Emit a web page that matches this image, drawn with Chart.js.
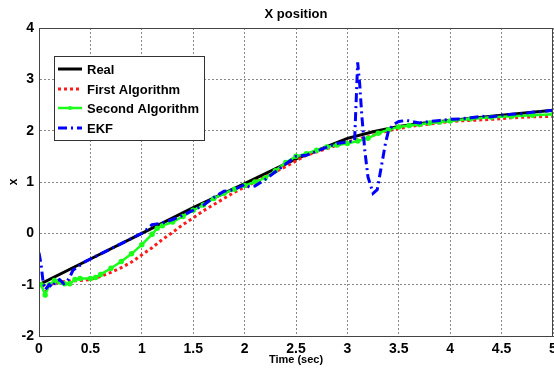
<!DOCTYPE html>
<html>
<head>
<meta charset="utf-8">
<script src="https://cdn.jsdelivr.net/npm/chart.js@4"></script>
<style>
  html, body { margin: 0; padding: 0; background: #fff; }
  #wrap { width: 554px; height: 371px; }
</style>
</head>
<body>
<div id="wrap"><canvas id="xChart" width="554" height="371"></canvas></div>
<script>
const seriesNames = ['Real', 'First Algorithm', 'Second Algorithm', 'EKF'];

const realT = [0, 0.5, 1, 1.5, 2, 2.5, 3, 3.25, 3.5, 3.75, 4, 4.5, 5];
const realX = [-1, -0.5, 0, 0.5, 0.97, 1.45, 1.85, 1.98, 2.08, 2.15, 2.2, 2.3, 2.4];

const firstT = [0.03, 0.06, 0.1, 0.2, 0.3, 0.4, 0.5, 0.6, 0.7, 0.8, 0.9, 1.0, 1.1, 1.2, 1.3, 1.4, 1.5, 1.6, 1.7, 1.8, 1.9, 2.0, 2.2, 2.4, 2.6, 2.8, 3.0, 3.2, 3.4, 3.6, 3.8, 4.0, 4.2, 4.4, 4.6, 4.8, 5.0];
const firstX = [-1.0, -1.15, -1.0, -0.95, -0.93, -0.92, -0.9, -0.84, -0.76, -0.67, -0.56, -0.42, -0.28, -0.12, 0.02, 0.17, 0.3, 0.44, 0.56, 0.68, 0.8, 0.9, 1.1, 1.3, 1.52, 1.65, 1.78, 1.88, 2.0, 2.08, 2.13, 2.18, 2.2, 2.22, 2.25, 2.27, 2.28];

const secondT = [0.02, 0.06, 0.1, 0.15, 0.2, 0.25, 0.3, 0.35, 0.4, 0.5, 0.55, 0.6, 0.7, 0.8, 0.9, 1.0, 1.1, 1.15, 1.2, 1.3, 1.4, 1.5, 1.6, 1.7, 1.8, 1.9, 2.0, 2.1, 2.2, 2.3, 2.4, 2.5, 2.6, 2.7, 2.8, 2.9, 3.0, 3.1, 3.2, 3.3, 3.4, 3.5, 3.6, 3.7, 3.8, 3.9, 4.0, 4.2, 4.4, 4.6, 4.8, 5.0];
const secondX = [-1.0, -1.2, -1.0, -0.92, -0.95, -0.98, -0.98, -0.9, -0.88, -0.88, -0.86, -0.8, -0.68, -0.55, -0.4, -0.22, -0.02, 0.1, 0.15, 0.22, 0.33, 0.45, 0.55, 0.68, 0.78, 0.86, 0.93, 1.0, 1.08, 1.22, 1.38, 1.5, 1.55, 1.62, 1.68, 1.72, 1.75, 1.8, 1.85, 1.95, 2.02, 2.07, 2.1, 2.12, 2.15, 2.17, 2.19, 2.23, 2.26, 2.28, 2.3, 2.32];

const ekfT = [0, 0.02, 0.04, 0.06, 0.08, 0.1, 0.13, 0.16, 0.2, 0.24, 0.27, 0.3, 0.33, 0.4, 0.45, 0.5, 0.55, 0.6, 0.7, 0.8, 0.85, 0.9, 1.0, 1.05, 1.1, 1.2, 1.3, 1.4, 1.5, 1.6, 1.7, 1.8, 1.9, 2.0, 2.05, 2.1, 2.2, 2.3, 2.4, 2.5, 2.6, 2.7, 2.8, 2.9, 3.0, 3.07, 3.1, 3.12, 3.14, 3.17, 3.2, 3.25, 3.29, 3.33, 3.37, 3.4, 3.45, 3.5, 3.58, 3.65, 3.7, 3.8, 3.9, 4.0, 4.1, 4.2, 4.3, 4.4, 4.5, 4.6, 4.7, 4.8, 4.9, 5.0];
const ekfX = [-0.38, -0.6, -0.95, -1.1, -1.05, -1.0, -1.05, -0.95, -0.9, -0.98, -0.95, -0.85, -0.72, -0.62, -0.55, -0.5, -0.45, -0.4, -0.3, -0.2, -0.15, -0.1, 0.0, 0.08, 0.17, 0.2, 0.27, 0.35, 0.45, 0.55, 0.7, 0.82, 0.85, 0.95, 0.9, 0.92, 1.05, 1.2, 1.35, 1.5, 1.52, 1.6, 1.68, 1.75, 1.78, 1.8, 3.33, 2.9, 2.3, 1.6, 1.1, 0.78, 0.85, 1.3, 1.75, 2.0, 2.12, 2.18, 2.2, 2.17, 2.15, 2.18, 2.2, 2.22, 2.23, 2.25, 2.28, 2.27, 2.3, 2.32, 2.33, 2.36, 2.37, 2.4];

const timeTicks = [0, 0.5, 1, 1.5, 2, 2.5, 3, 3.5, 4, 4.5, 5];
const posTicks = [-2, -1, 0, 1, 2, 3, 4];

function pts(ts, xs) {
  return ts.map((t, i) => ({ x: t, y: xs[i] }));
}

const boldFont = '"Liberation Sans", Arial, sans-serif';

// frame, title and legend box drawn on top of the plot
const decor = {
  id: 'decor',
  afterDraw(chart) {
    const ctx = chart.ctx;
    const a = chart.chartArea;
    ctx.save();
    ctx.strokeStyle = '#444';
    ctx.lineWidth = 1;
    ctx.strokeRect(a.left + 0.5, a.top + 0.5, a.right - a.left - 1, a.bottom - a.top);

    ctx.fillStyle = '#000';
    ctx.font = 'bold 13px ' + boldFont;
    ctx.textAlign = 'center';
    ctx.textBaseline = 'middle';
    ctx.fillText('X position', (a.left + a.right) / 2, 14);

    // legend
    const lx = 54, ly = 56, lw = 150, lh = 84;
    ctx.fillStyle = '#fff';
    ctx.fillRect(lx, ly, lw, lh);
    ctx.strokeStyle = '#333';
    ctx.strokeRect(lx + 0.5, ly + 0.5, lw, lh);
    const rows = [69, 89, 108, 128];
    chart.data.datasets.forEach((ds, i) => {
      const y = rows[i];
      ctx.save();
      ctx.strokeStyle = ds.borderColor;
      ctx.lineWidth = ds.borderWidth;
      ctx.setLineDash(ds.borderDash || []);
      ctx.beginPath();
      ctx.moveTo(58, y);
      ctx.lineTo(82, y);
      ctx.stroke();
      if (ds.pointRadius > 0) {
        ctx.fillStyle = ds.borderColor;
        ctx.beginPath();
        ctx.arc(70, y, 2, 0, Math.PI * 2);
        ctx.fill();
      }
      ctx.restore();
      ctx.fillStyle = '#000';
      ctx.font = 'bold 13px ' + boldFont;
      ctx.textAlign = 'left';
      ctx.textBaseline = 'middle';
      ctx.fillText(ds.label, 87, y + 1);
    });
    ctx.restore();
  }
};

const ctx = document.getElementById('xChart').getContext('2d');
const chart = new Chart(ctx, {
  type: 'scatter',
  data: {
    datasets: [
      { label: seriesNames[0], data: pts(realT, realX), borderColor: '#000000', borderWidth: 3, pointRadius: 0, order: 3 },
      { label: seriesNames[1], data: pts(firstT, firstX), borderColor: '#ff1a1a', borderWidth: 3, borderDash: [3, 3], pointRadius: 0, order: 2 },
      { label: seriesNames[2], data: pts(secondT, secondX), borderColor: '#1aff1a', backgroundColor: '#1aff1a', borderWidth: 2.5, pointRadius: 1.5, order: 1 },
      { label: seriesNames[3], data: pts(ekfT, ekfX), borderColor: '#0000ff', borderWidth: 3, borderDash: [9, 4, 2, 4], pointRadius: 0, order: 0 }
    ].map(d => Object.assign({ showLine: true, fill: false, tension: 0 }, d))
  },
  options: {
    responsive: false,
    animation: false,
    layout: { autoPadding: false, padding: { top: 28, right: 1, left: 0, bottom: 0 } },
    plugins: {
      legend: { display: false },
      title: { display: false },
      tooltip: { enabled: false }
    },
    scales: {
      x: {
        type: 'linear',
        min: 0,
        max: 5,
        afterBuildTicks: s => { s.ticks = timeTicks.map(v => ({ value: v })); },
        afterFit: s => { s.height = 35; s.paddingLeft = 0; s.paddingRight = 0; },
        ticks: {
          color: '#000',
          padding: 5,
          font: { family: boldFont, size: 14, weight: 'bold' },
          callback: v => String(v)
        },
        grid: {
          color: '#888',
          lineWidth: 1,
          drawTicks: false
        },
        border: { display: true, color: '#444', dash: [2, 2] },
        title: {
          display: true,
          text: 'Time (sec)',
          color: '#000',
          padding: { top: 0, bottom: 4 },
          font: { family: boldFont, size: 11, weight: 'bold' }
        }
      },
      y: {
        type: 'linear',
        min: -2,
        max: 4,
        afterBuildTicks: s => { s.ticks = posTicks.map(v => ({ value: v })); },
        afterFit: s => { s.width = 39; s.paddingTop = 0; s.paddingBottom = 0; },
        ticks: {
          color: '#000',
          padding: 5,
          font: { family: boldFont, size: 14, weight: 'bold' },
          callback: v => String(v)
        },
        grid: {
          color: '#888',
          lineWidth: 1,
          drawTicks: false
        },
        border: { display: true, color: '#444', dash: [2, 2] },
        title: {
          display: true,
          text: 'x',
          color: '#000',
          padding: { top: 6, bottom: 0 },
          font: { family: boldFont, size: 12, weight: 'bold' }
        }
      }
    }
  },
  plugins: [decor]
});
</script>
</body>
</html>
